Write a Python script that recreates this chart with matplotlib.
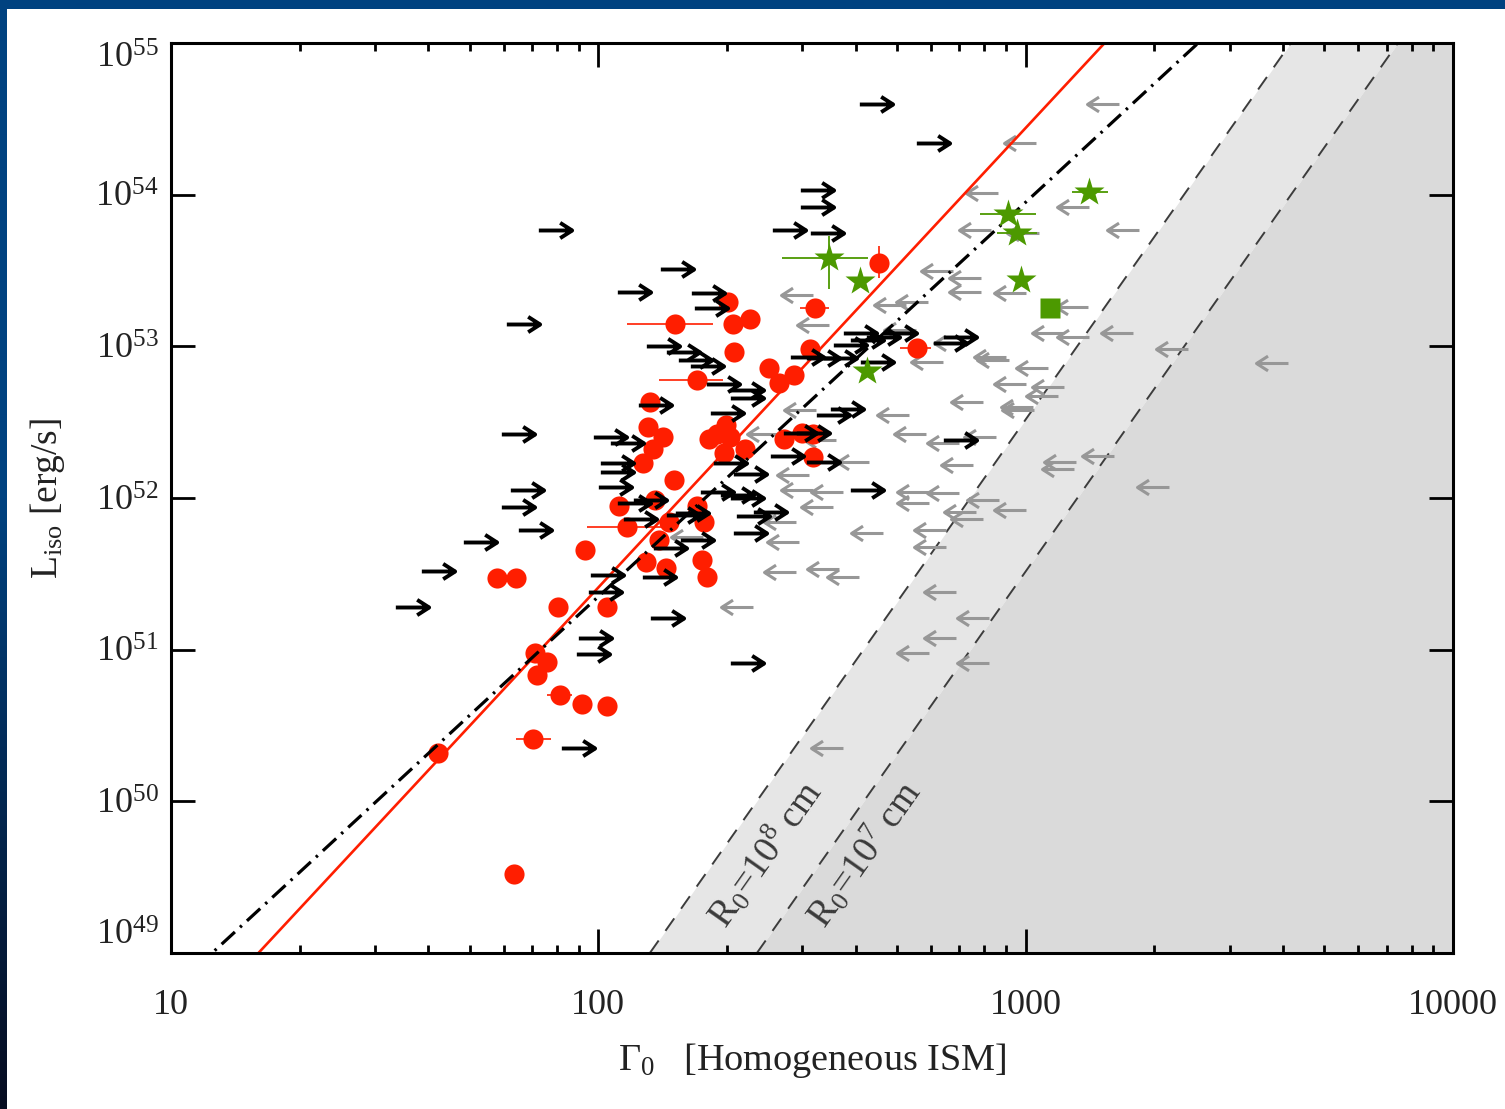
import numpy as np
import matplotlib
matplotlib.use('Agg')
import matplotlib.pyplot as plt
from matplotlib.path import Path
from matplotlib.markers import MarkerStyle
from matplotlib.patches import Rectangle
from matplotlib.ticker import LogLocator, NullLocator, NullFormatter

plt.rcParams['font.family'] = ['Liberation Serif', 'DejaVu Serif']
plt.rcParams['mathtext.fontset'] = 'custom'
plt.rcParams['mathtext.rm'] = 'Liberation Serif'
plt.rcParams['mathtext.it'] = 'Liberation Serif:italic'
plt.rcParams['mathtext.bf'] = 'Liberation Serif:bold'
plt.rcParams['lines.scale_dashes'] = False

# ---------------- data ----------------
# lower limits on Gamma0 (black right arrows)
black_gamma = [447, 607, 325, 325, 280, 343, 79.2, 153, 121, 181, 184, 66.6, 142, 158, 168, 180,
               410, 426, 464, 508, 388, 308, 336, 368, 449, 703, 666, 196, 223, 223, 136, 200,
               382, 354, 64.9, 106.5, 116.7, 296, 318, 703, 110.6, 110.6, 203, 226, 276, 336,
               109.4, 68.1, 64.9, 426, 190, 211, 223, 132, 121, 252, 230, 158, 125, 71.1, 226,
               52.9, 170, 147, 42.2, 104.8, 139, 36.6, 145, 98.2, 97.2, 223, 89.6, 103.7, 165.7]
black_log_L = [54.60, 54.34, 54.03, 53.92, 53.77, 53.75, 53.77, 53.51, 53.36, 53.35, 53.25, 53.15,
               53.00, 52.96, 52.91, 52.87, 53.09, 53.04, 53.06, 53.09, 53.01, 52.93, 52.92, 52.92,
               52.90, 53.06, 53.02, 52.75, 52.71, 52.66, 52.61, 52.56, 52.59, 52.55, 52.42, 52.40,
               52.36, 52.43, 52.43, 52.38, 52.23, 52.17, 52.23, 52.16, 52.28, 52.24, 52.07, 52.05,
               51.94, 52.05, 52.04, 52.02, 52.00, 51.99, 51.97, 51.91, 51.88, 51.89, 51.86, 51.79,
               51.77, 51.71, 51.72, 51.67, 51.52, 51.49, 51.48, 51.28, 51.21, 51.08, 50.97, 50.91,
               50.35, 51.38, 51.90]

# upper limits on Gamma0 (grey left arrows)
gray_gamma = [1517, 970, 791, 1291, 762, 986, 1690, 621, 722, 722, 920, 1284, 1128, 1291, 1637,
              2202, 3773, 666, 1035, 920, 1128, 1092, 955, 960, 1204, 1191, 1477, 1987, 920, 482,
              318, 508, 826, 839, 588, 730, 490, 297, 536, 641, 783, 243, 330, 395, 691, 286, 292,
              343, 545, 641, 545, 795, 703, 730, 325, 266, 161, 271, 426, 598, 598, 266, 336, 374,
              211, 631, 754, 631, 545, 754, 343, 292, 543]
gray_log_L = [54.60, 54.34, 54.01, 53.92, 53.77, 53.75, 53.77, 53.50, 53.45, 53.36, 53.35, 53.26,
              53.09, 53.06, 53.09, 52.98, 52.89, 53.02, 52.86, 52.75, 52.73, 52.67, 52.60, 52.58,
              52.24, 52.19, 52.28, 52.07, 51.92, 53.27, 53.14, 53.11, 52.93, 52.91, 52.90, 52.63,
              52.55, 52.58, 52.42, 52.36, 52.40, 52.42, 52.38, 52.24, 52.22, 52.15, 52.05, 52.04,
              52.04, 52.03, 51.97, 51.99, 51.91, 51.86, 51.94, 51.84, 51.74, 51.71, 51.77, 51.79,
              51.68, 51.51, 51.53, 51.48, 51.28, 51.38, 51.21, 51.08, 50.98, 50.91, 50.35, 53.34,
              53.29]

# measured Gamma0 (red circles)
red_gamma = [201, 207, 226.5, 151, 208, 251, 265, 287, 170, 132, 131, 142, 134, 127, 182, 199,
             190, 203, 272, 300, 318, 318, 197, 220, 150, 112, 136, 170, 177, 117, 146, 139, 93,
             129, 144, 175, 180, 58, 64, 80.5, 105, 71, 76, 72, 81.4, 91.6, 105, 70.3, 42.2, 63.6,
             321, 313, 557, 454]
red_log_L = [53.29, 53.15, 53.18, 53.15, 52.96, 52.86, 52.76, 52.81, 52.78, 52.63, 52.47, 52.40,
             52.32, 52.23, 52.39, 52.48, 52.42, 52.40, 52.39, 52.43, 52.42, 52.27, 52.30, 52.32,
             52.12, 51.95, 51.99, 51.95, 51.84, 51.81, 51.84, 51.72, 51.66, 51.58, 51.54, 51.59,
             51.48, 51.47, 51.47, 51.28, 51.28, 50.98, 50.92, 50.83, 50.70, 50.64, 50.63, 50.41,
             50.32, 49.52, 53.25, 52.98, 52.99, 53.55]
# horizontal error bars of some red points
red_eb_gamma = [151, 170, 117, 81.4, 70.3, 321, 557]
red_eb_log_L = [53.15, 52.78, 51.81, 50.70, 50.41, 53.25, 52.99]
red_eb_gamma_lo = [117, 139, 94, 76, 64, 296, 508]
red_eb_gamma_hi = [185.5, 196, 150, 87, 77.5, 346, 600]
# vertical error bar
red_veb_gamma = [454]
red_veb_log_L = [53.55]
red_veb_log_L_lo = [53.45]
red_veb_log_L_hi = [53.66]

# green stars (with error bars) and square
star_gamma = [1407, 910, 955, 975, 347, 410, 426]
star_log_L = [54.02, 53.87, 53.75, 53.44, 53.58, 53.43, 52.84]
star_gamma_lo = [1284, 783, 857, 975, 269, 410, 426]
star_gamma_hi = [1559, 1058, 1063, 975, 428, 410, 426]
star_log_L_lo = [54.02, 53.87, 53.75, 53.44, 53.38, 53.43, 52.84]
star_log_L_hi = [54.02, 53.87, 53.75, 53.44, 53.73, 53.43, 52.84]
square_gamma = [1141]
square_log_L = [53.25]

# fitted relations  log L = logL100 + slope * log(Gamma/100)
red_fit_slope, red_fit_logL100 = 3.03, 51.41
bk_fit_slope, bk_fit_logL100 = 2.60, 51.35
# R0 limits: Gamma = G49 * (L / 1e49)^(1/4)
r0_labels = [r'R$_0$=10$^8$ cm', r'R$_0$=10$^7$ cm']
r0_gamma49 = [132, 235]
r0_label_gamma = [245, 418]
r0_label_log_L = [49.65, 49.65]

x_ticks = [10, 100, 1000, 10000]
x_ticklabels = ['10', '100', '1000', '10000']
y_ticks_exp = [49, 50, 51, 52, 53, 54, 55]

# ---------------- figure ----------------
W, H = 1505, 1109
fig = plt.figure(figsize=(W / 100, H / 100), dpi=100)

# slide background gradient
bg = fig.add_axes([0, 0, 1, 1], zorder=-10)
t = np.linspace(0, 1, 400)
top = np.array([0, 66, 128]) / 255.
bot = np.array([6, 12, 32]) / 255.
f = np.clip((t - 0.45) / 0.55, 0, 1)[:, None]
cols = top * (1 - f) + bot * f
bg.imshow(cols[:, None, :], aspect='auto', extent=[0, 1, 0, 1])
bg.set_axis_off()
fig.patches.append(Rectangle((7.5 / W, 0), 1, 1 - 8.5 / H, transform=fig.transFigure,
                             facecolor='white', edgecolor='none', zorder=-5))

ax = fig.add_axes([171 / W, 156 / H, 1282 / W, 910 / H])
ax.set_xscale('log')
ax.set_yscale('log')
ax.set_xlim(10, 10000)
ax.set_ylim(1e49, 1e55)
ax.set_facecolor('none')

# shaded regions and R0 lines
Lg = np.logspace(49, 55, 300)
g8 = r0_gamma49[0] * (Lg / 1e49) ** 0.25
g7 = r0_gamma49[1] * (Lg / 1e49) ** 0.25
ax.fill_betweenx(Lg, g8, g7, color='#e6e6e6', lw=0, zorder=0.5)
ax.fill_betweenx(Lg, g7, 1e5, color='#dadada', lw=0, zorder=0.5)
for gg in (g8, g7):
    ax.plot(gg, Lg, color='#3c3c3c', lw=1.4, dashes=(11, 8.5), zorder=1)
for lab, gx, ly in zip(r0_labels, r0_label_gamma, r0_label_log_L):
    ax.text(gx, 10 ** ly, lab, rotation=54.8, rotation_mode='anchor', ha='center', va='center',
            fontsize=27, color='#3a3a3a', zorder=1.5)


def arrow_marker(direction):
    s = 1 if direction > 0 else -1
    verts = [(-s * 1.0, 0), (s * 1.0, 0), (s * 0.28, 0.46), (s * 1.0, 0), (s * 0.28, -0.46)]
    codes = [Path.MOVETO, Path.LINETO, Path.MOVETO, Path.LINETO, Path.LINETO]
    return MarkerStyle(Path(verts, codes), fillstyle='none', joinstyle='miter', capstyle='butt')


ax.plot(gray_gamma, 10 ** np.array(gray_log_L), ls='none', marker=arrow_marker(-1), ms=23,
        mec='#979797', mfc='none', mew=2.2, zorder=3)

red = '#ff1e00'
ax.errorbar(red_eb_gamma, 10 ** np.array(red_eb_log_L),
            xerr=[np.array(red_eb_gamma) - np.array(red_eb_gamma_lo),
                  np.array(red_eb_gamma_hi) - np.array(red_eb_gamma)],
            fmt='none', ecolor=red, elinewidth=1.2, capsize=0, zorder=3.5)
ax.errorbar(red_veb_gamma, 10 ** np.array(red_veb_log_L),
            yerr=[10 ** np.array(red_veb_log_L) - 10 ** np.array(red_veb_log_L_lo),
                  10 ** np.array(red_veb_log_L_hi) - 10 ** np.array(red_veb_log_L)],
            fmt='none', ecolor=red, elinewidth=1.2, capsize=0, zorder=3.5)
ax.plot(red_gamma, 10 ** np.array(red_log_L), ls='none', marker='o', ms=14.5, mfc=red, mec='none',
        zorder=4)

gfit = np.logspace(1, 4, 200)
ax.plot(gfit, 10 ** (red_fit_logL100 + red_fit_slope * np.log10(gfit / 100)), color=red, lw=1.9,
        zorder=4.5)
ax.plot(gfit, 10 ** (bk_fit_logL100 + bk_fit_slope * np.log10(gfit / 100)), color='black', lw=2.3,
        dashes=(13, 5, 1.8, 5), zorder=4.6)

ax.plot(black_gamma, 10 ** np.array(black_log_L), ls='none', marker=arrow_marker(1), ms=24,
        mec='black', mfc='none', mew=2.8, zorder=5)

green = '#4c9900'
sg = np.array(star_gamma)
sl = 10 ** np.array(star_log_L)
ax.errorbar(sg, sl, xerr=[sg - np.array(star_gamma_lo), np.array(star_gamma_hi) - sg],
            yerr=[sl - 10 ** np.array(star_log_L_lo), 10 ** np.array(star_log_L_hi) - sl],
            fmt='none', ecolor=green, elinewidth=1.3, capsize=0, zorder=6)
ax.plot(sg, sl, ls='none', marker='*', ms=22, mfc=green, mec='none', zorder=6.5)
ax.plot(square_gamma, 10 ** np.array(square_log_L), ls='none', marker='s', ms=14, mfc=green,
        mec='none', zorder=6.5)

# axes styling
for sp in ax.spines.values():
    sp.set_linewidth(2.2)
    sp.set_zorder(8)
ax.set_xticks(x_ticks)
ax.set_xticklabels(x_ticklabels)
ax.xaxis.set_minor_locator(LogLocator(base=10, subs=np.arange(2, 10)))
ax.xaxis.set_minor_formatter(NullFormatter())
ax.set_yticks([10.0 ** e for e in y_ticks_exp])
ax.set_yticklabels([r'$10^{%d}$' % e for e in y_ticks_exp])
ax.yaxis.set_minor_locator(NullLocator())
ax.tick_params(which='both', direction='in', top=True, right=True, colors='black',
               labelcolor='#222222', zorder=8)
ax.tick_params(which='major', length=17, width=2.0, labelsize=26)
ax.tick_params(which='minor', length=6, width=2.0)
ax.tick_params(axis='x', which='major', pad=26)
ax.tick_params(axis='y', which='major', pad=9)
ylabs = ax.get_yticklabels()
ylabs[0].set_va('bottom')
ylabs[-1].set_va('top')

ax.set_xlabel(r'$\Gamma_0$   [Homogeneous ISM]', fontsize=27.5, color='#222222')
ax.xaxis.set_label_coords(0.5, -0.097)
ax.set_ylabel(r'L$_{\rm iso}$ [erg/s]', fontsize=27, color='#222222')
ax.yaxis.set_label_coords(-0.081, 0.5)

fig.savefig('out.png', dpi=100)
